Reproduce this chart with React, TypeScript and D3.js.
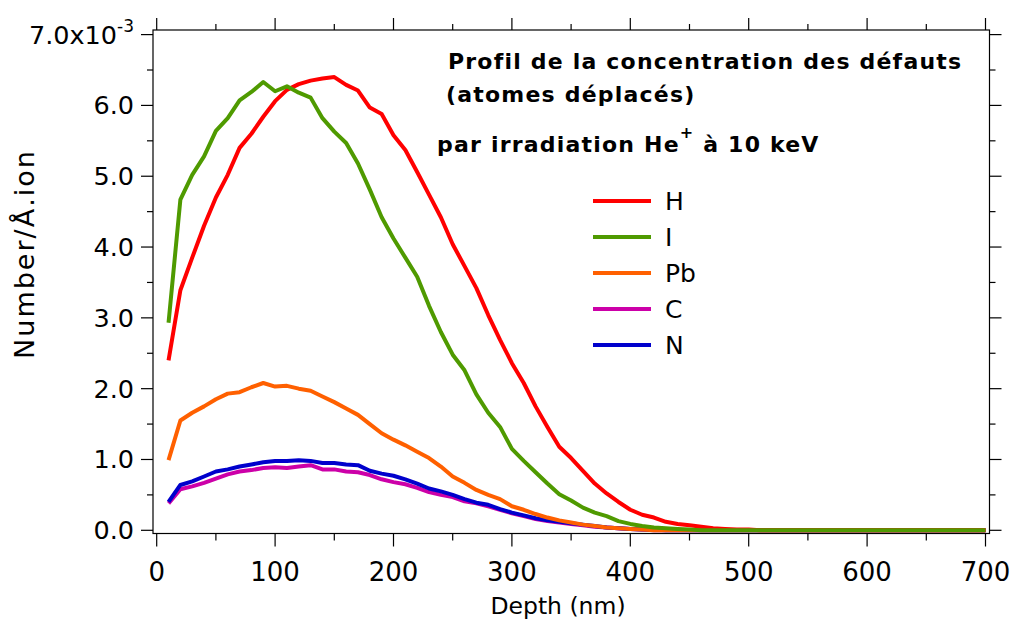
import React from "react";
import * as d3 from "d3";

const depth: number[] = d3.range(10, 701, 10);

const H_vals: number[] = [
  2.40, 3.39, 3.85, 4.30, 4.70, 5.02, 5.40, 5.60, 5.84, 6.06,
  6.22, 6.30, 6.35, 6.38, 6.40, 6.29, 6.21, 5.97, 5.88, 5.58,
  5.37, 5.06, 4.74, 4.42, 4.04, 3.73, 3.42, 3.04, 2.69, 2.36,
  2.08, 1.75, 1.46, 1.18, 1.02, 0.84, 0.66, 0.52, 0.40, 0.29,
  0.22, 0.18, 0.12, 0.09, 0.07, 0.05, 0.03, 0.02, 0.01, 0.01,
];
const I_vals: number[] = [
  2.93, 4.67, 5.02, 5.28, 5.64, 5.82, 6.07, 6.19, 6.33, 6.20,
  6.27, 6.18, 6.11, 5.82, 5.63, 5.47, 5.18, 4.81, 4.42, 4.12,
  3.85, 3.58, 3.17, 2.80, 2.48, 2.26, 1.92, 1.66, 1.46, 1.15,
  0.98, 0.82, 0.66, 0.51, 0.42, 0.32, 0.25, 0.20, 0.13, 0.09,
  0.06, 0.04, 0.03, 0.02, 0.01,
];
const Pb_vals: number[] = [
  0.99, 1.55, 1.66, 1.75, 1.85, 1.93, 1.95, 2.02, 2.08, 2.03,
  2.04, 2.00, 1.97, 1.89, 1.81, 1.72, 1.63, 1.50, 1.37, 1.28,
  1.20, 1.11, 1.02, 0.90, 0.76, 0.67, 0.57, 0.50, 0.44, 0.34,
  0.29, 0.23, 0.18, 0.14, 0.11, 0.08, 0.06, 0.04, 0.03, 0.02,
  0.01,
];
const C_vals: number[] = [
  0.38, 0.58, 0.62, 0.67, 0.73, 0.79, 0.83, 0.85, 0.88, 0.89,
  0.88, 0.90, 0.92, 0.86, 0.86, 0.83, 0.82, 0.78, 0.72, 0.68,
  0.65, 0.60, 0.54, 0.50, 0.47, 0.41, 0.38, 0.34, 0.29, 0.24,
  0.20, 0.16, 0.13, 0.11, 0.09, 0.07, 0.05, 0.04, 0.03, 0.02,
  0.01,
];
const N_vals: number[] = [
  0.40, 0.64, 0.69, 0.76, 0.83, 0.86, 0.90, 0.93, 0.96, 0.98,
  0.98, 0.99, 0.98, 0.95, 0.95, 0.93, 0.92, 0.84, 0.80, 0.77,
  0.72, 0.66, 0.59, 0.55, 0.50, 0.44, 0.39, 0.36, 0.30, 0.25,
  0.21, 0.17, 0.14, 0.12, 0.10, 0.08, 0.06, 0.04, 0.03, 0.02,
  0.01, 0.01,
];

const seriesNames: string[] = ["H", "I", "Pb", "C", "N"];
const seriesColors: string[] = ["#ff0000", "#4f9a00", "#ff6000", "#cc00a8", "#0000cc"];
const seriesValues: number[][] = [H_vals, I_vals, Pb_vals, C_vals, N_vals];
const drawOrder: number[] = [3, 4, 2, 0, 1];

const xTicksMajor: number[] = [0, 100, 200, 300, 400, 500, 600, 700];
const xTicksMinor: number[] = [50, 150, 250, 350, 450, 550, 650];
const yTicksMajor: number[] = [0, 1, 2, 3, 4, 5, 6, 7];
const yTicksMinor: number[] = [0.5, 1.5, 2.5, 3.5, 4.5, 5.5, 6.5];

const titleLines: string[] = [
  "Profil de la concentration des défauts",
  "(atomes déplacés)",
];

const W = 1018;
const H = 628;
const frame = { left: 153, right: 989.5, top: 30, bottom: 533.5 };
const FONT = "'DejaVu Sans', 'Liberation Sans', sans-serif";

export default function App() {
  const x = d3.scaleLinear().domain([0, 700]).range([156.7, 985.5]);
  const y = d3.scaleLinear().domain([0, 7]).range([530.3, 34.6]);

  const seriesData = (vals: number[]) =>
    depth.map((d, i) => ({ d, v: i < vals.length ? vals[i] : 0 }));

  const line = d3
    .line<{ d: number; v: number }>()
    .x((p) => x(p.d))
    .y((p) => y(p.v));

  const fmt = d3.format(".1f");

  return (
    <svg
      width={W}
      height={H}
      style={{ position: "absolute", left: 0, top: 0, background: "#fff" }}
      fontFamily={FONT}
    >
      <rect x={0} y={0} width={W} height={H} fill="#fff" />
      {drawOrder.map((si) => (
        <path
          key={seriesNames[si]}
          d={line(seriesData(seriesValues[si])) || ""}
          fill="none"
          stroke={seriesColors[si]}
          strokeWidth={4}
          strokeLinejoin="round"
        />
      ))}
      <rect
        x={frame.left}
        y={frame.top}
        width={frame.right - frame.left}
        height={frame.bottom - frame.top}
        fill="none"
        stroke="#000"
        strokeWidth={1.2}
      />
      {xTicksMajor.map((t) => (
        <g key={"xM" + t}>
          <line x1={x(t)} x2={x(t)} y1={frame.bottom} y2={frame.bottom + 13} stroke="#000" strokeWidth={1.2} />
          <line x1={x(t)} x2={x(t)} y1={frame.top} y2={frame.top - 12} stroke="#000" strokeWidth={1.2} />
          <text x={x(t)} y={581} textAnchor="middle" fontSize={26} fill="#000">
            {t}
          </text>
        </g>
      ))}
      {xTicksMinor.map((t) => (
        <g key={"xm" + t}>
          <line x1={x(t)} x2={x(t)} y1={frame.bottom} y2={frame.bottom + 7} stroke="#000" strokeWidth={1.2} />
          <line x1={x(t)} x2={x(t)} y1={frame.top} y2={frame.top - 6} stroke="#000" strokeWidth={1.2} />
        </g>
      ))}
      {yTicksMajor.map((t) => (
        <g key={"yM" + t}>
          <line x1={frame.left} x2={frame.left - 12} y1={y(t)} y2={y(t)} stroke="#000" strokeWidth={1.2} />
          <line x1={frame.right} x2={frame.right + 12} y1={y(t)} y2={y(t)} stroke="#000" strokeWidth={1.2} />
          {t === 7 ? (
            <text x={134} y={y(t) + 9} textAnchor="end" fontSize={25.5} fill="#000">
              {fmt(t) + "x10"}
              <tspan fontSize={17} dy={-12}>-3</tspan>
            </text>
          ) : (
            <text x={134} y={y(t) + 9} textAnchor="end" fontSize={25.5} fill="#000">
              {fmt(t)}
            </text>
          )}
        </g>
      ))}
      {yTicksMinor.map((t) => (
        <g key={"ym" + t}>
          <line x1={frame.left} x2={frame.left - 6} y1={y(t)} y2={y(t)} stroke="#000" strokeWidth={1.2} />
          <line x1={frame.right} x2={frame.right + 6} y1={y(t)} y2={y(t)} stroke="#000" strokeWidth={1.2} />
        </g>
      ))}
      <text x={558} y={614} textAnchor="middle" fontSize={23.5} fill="#000">
        Depth (nm)
      </text>
      <text
        transform="translate(34,254) rotate(-90)"
        textAnchor="middle"
        fontSize={27}
        fill="#000"
        letterSpacing={2}
      >
        Number/Å.ion
      </text>
      <text x={448} y={69} fontSize={22} fontWeight="bold" fill="#000" letterSpacing={1.2}>
        {titleLines[0]}
      </text>
      <text x={446} y={102} fontSize={22} fontWeight="bold" fill="#000" letterSpacing={1.2}>
        {titleLines[1]}
      </text>
      <text x={437} y={152} fontSize={22} fontWeight="bold" fill="#000" letterSpacing={1.2}>
        par irradiation He
        <tspan fontSize={16} dy={-14}>+</tspan>
        <tspan dy={14}> à 10 keV</tspan>
      </text>
      {seriesNames.map((nm, i) => (
        <g key={"lg" + nm}>
          <line
            x1={593}
            x2={651}
            y1={201 + i * 36}
            y2={201 + i * 36}
            stroke={seriesColors[i]}
            strokeWidth={4}
          />
          <text x={665} y={201 + i * 36 + 9} fontSize={25} fill="#000">
            {nm}
          </text>
        </g>
      ))}
    </svg>
  );
}
